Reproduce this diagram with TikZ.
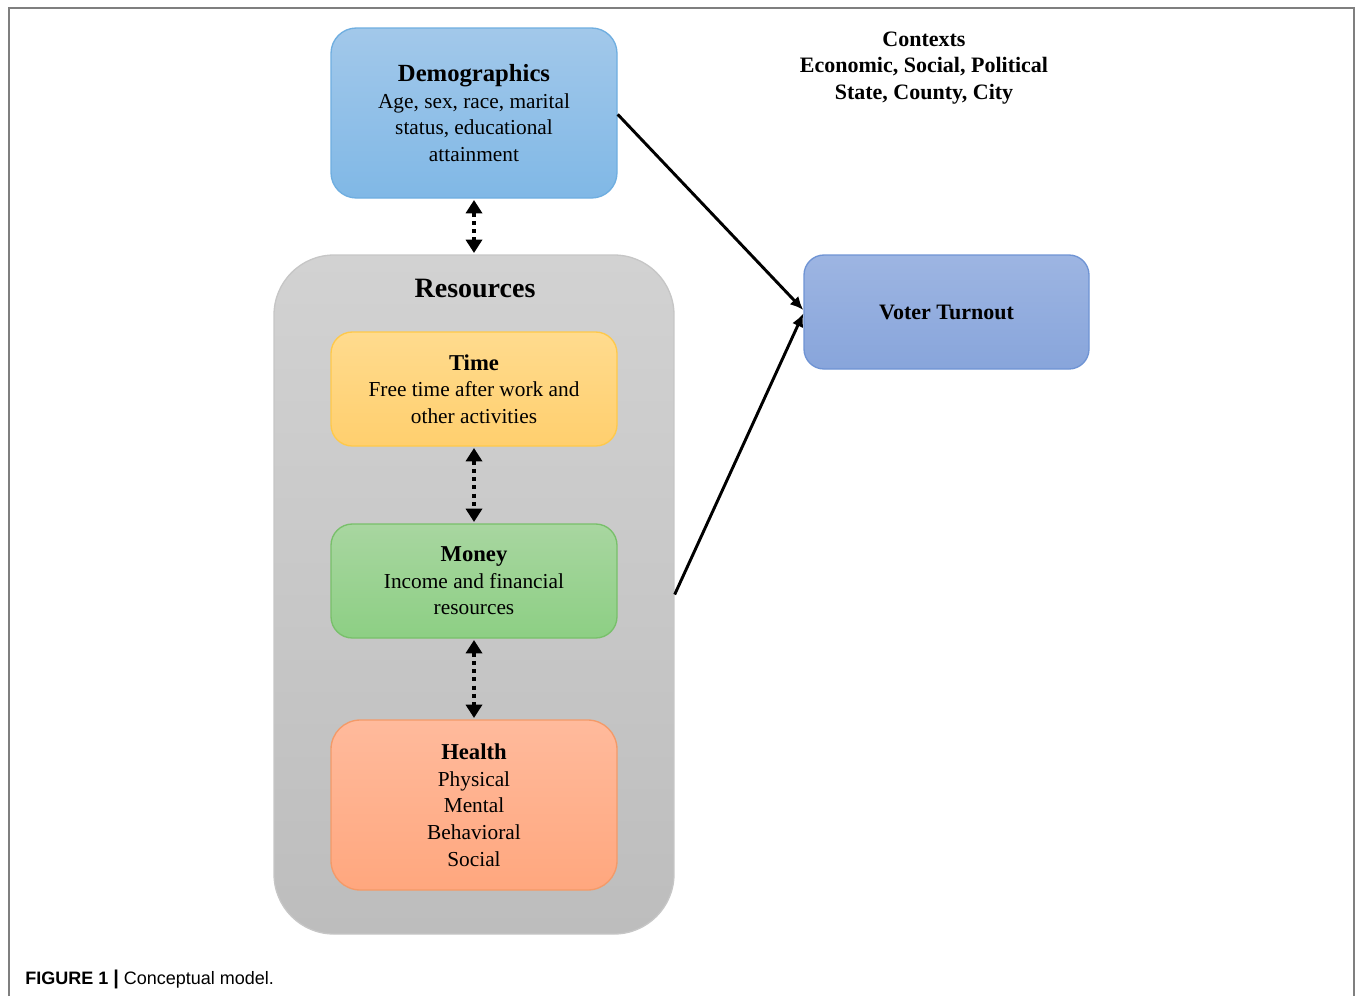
\documentclass[tikz,border=0pt]{standalone}
\usepackage{fontspec}
\setmainfont{Liberation Serif}
\newfontfamily\capfont{Liberation Sans}
\usetikzlibrary{arrows.meta,shadings}
\newcommand\boxtitlefont{\fontsize{17}{20}\selectfont\bfseries}
\definecolor{demoTop}{HTML}{A2C8EA}
\definecolor{demoBot}{HTML}{80B8E6}
\definecolor{demoLine}{HTML}{6FAEE0}
\definecolor{timeTop}{HTML}{FFDB8E}
\definecolor{timeBot}{HTML}{FFCF6E}
\definecolor{timeLine}{HTML}{FFC94A}
\definecolor{moneyTop}{HTML}{A8D6A0}
\definecolor{moneyBot}{HTML}{8DCF84}
\definecolor{moneyLine}{HTML}{78C06A}
\definecolor{healthTop}{HTML}{FFBA9C}
\definecolor{healthBot}{HTML}{FFA77E}
\definecolor{healthLine}{HTML}{F49A68}
\definecolor{voteTop}{HTML}{9DB5E2}
\definecolor{voteBot}{HTML}{88A5DB}
\definecolor{voteLine}{HTML}{6F94D4}
\definecolor{resTop}{HTML}{D2D2D2}
\definecolor{resBot}{HTML}{BDBDBD}
\definecolor{resLine}{HTML}{C6C6C6}
\definecolor{frameGray}{HTML}{7F7F7F}
\tikzset{
  boxbase/.style={draw, line width=1pt, align=center, inner sep=0pt,
    font=\fontsize{16}{20}\selectfont},
  demobox/.style={boxbase, rounded corners=19pt, top color=demoTop, bottom color=demoBot, draw=demoLine,
    minimum width=214.5pt, minimum height=127.5pt},
  timebox/.style={boxbase, rounded corners=16pt, top color=timeTop, bottom color=timeBot, draw=timeLine,
    minimum width=214.5pt, minimum height=85.5pt},
  moneybox/.style={boxbase, rounded corners=16pt, top color=moneyTop, bottom color=moneyBot, draw=moneyLine,
    minimum width=214.5pt, minimum height=85.5pt},
  healthbox/.style={boxbase, rounded corners=22pt, top color=healthTop, bottom color=healthBot, draw=healthLine,
    minimum width=214.5pt, minimum height=127.5pt},
  votebox/.style={boxbase, rounded corners=15pt, top color=voteTop, bottom color=voteBot, draw=voteLine,
    minimum width=213.75pt, minimum height=85.5pt},
  resbox/.style={draw=resLine, line width=1pt, rounded corners=45pt, top color=resTop, bottom color=resBot,
    minimum width=300pt, minimum height=509.25pt, inner sep=0pt},
  dotarrow/.style={line width=3pt, dash pattern=on 3pt off 3.2pt,
    {Triangle[width=12pt,length=10pt]}-{Triangle[width=12pt,length=10pt]}, shorten <=1pt, shorten >=1pt},
  mainarrow/.style={line width=2.2pt, -{Latex[length=10pt,width=9pt]}}
}
\begin{document}
\begin{tikzpicture}[x=0.75pt,y=-0.75pt]
\useasboundingbox (0,0) rectangle (1355,996);
% frame
\draw[frameGray, line width=1.2pt] (9,996) -- (9,8) -- (1354,8) -- (1354,996);
% resources container
\node[resbox] (res) at (474,594.5) {};
\node[font=\fontsize{21}{24}\selectfont\bfseries] (restitle) at (475,288) {Resources};
% boxes
\node[demobox] (demo) at (474,113) {{\fontsize{18.5}{22}\selectfont\bfseries Demographics}\\Age, sex, race, marital\\status, educational\\attainment};
\node[timebox] (time) at (474,389) {{\boxtitlefont Time}\\Free time after work and\\other activities};
\node[moneybox] (money) at (474,581) {{\boxtitlefont Money}\\Income and financial\\resources};
\node[healthbox] (health) at (474,805) {{\boxtitlefont Health}\\Physical\\Mental\\Behavioral\\Social};
\node[votebox] (vote) at (946.5,312) {\fontsize{16.5}{20}\selectfont\bfseries Voter Turnout};
% contexts
\node[align=center, font=\fontsize{16.5}{20}\selectfont\bfseries] (ctx) at (924,68) {Contexts\\Economic, Social, Political\\State, County, City};
% arrows
\draw[dotarrow] (demo.south) -- (res.north);
\draw[dotarrow] (time.south) -- (money.north);
\draw[dotarrow] (money.south) -- (health.north);
\draw[mainarrow] ([yshift=-1pt]demo.east) -- ([yshift=1.5pt]vote.west);
\draw[mainarrow] (res.east) -- ([yshift=-1pt]vote.west);
% caption
\node[anchor=west, inner sep=0pt, font=\capfont\fontsize{13.5}{16}\selectfont] (cap) at (25,979) {\textbf{FIGURE 1 {\fontsize{15}{16}\selectfont|}} Conceptual model.};
\end{tikzpicture}
\end{document}
